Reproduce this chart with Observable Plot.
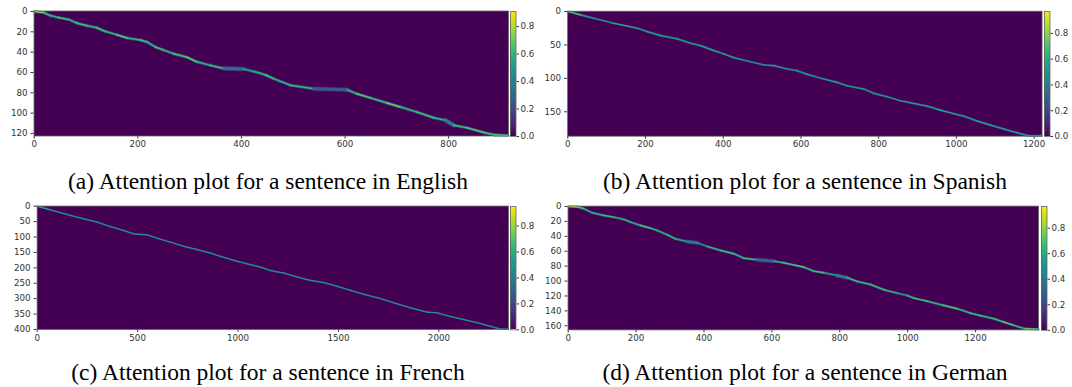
<!DOCTYPE html>
<html>
<head>
<meta charset="utf-8">
<script src="https://cdn.jsdelivr.net/npm/d3@7"></script>
<script src="https://cdn.jsdelivr.net/npm/@observablehq/plot@0.6"></script>
<style>
  html, body { margin: 0; padding: 0; background: #fff; }
  #root { position: relative; width: 1072px; height: 387px; overflow: hidden; background: #fff; }
  #root > div, #root > svg { position: absolute; }
  .cap { font-family: "Liberation Serif", "Times New Roman", serif; font-size: 23.5px; line-height: 1; color: #000; text-align: center; white-space: nowrap; width: 540px; }
</style>
</head>
<body>
<div id="root"></div>
<script>
// ---------------- data ----------------
const captions = [
  "(a) Attention plot for a sentence in English",
  "(b) Attention plot for a sentence in Spanish",
  "(c) Attention plot for a sentence in French",
  "(d) Attention plot for a sentence in German"
];
// matrix sizes (input frames x output steps)
const inputLengths = [916, 1221, 2347, 1386];
const outputLengths = [123, 187, 400, 166];
const colorMax = [0.91, 0.97, 0.95, 0.97];

const xTicksA = [0, 200, 400, 600, 800];
const yTicksA = [0, 20, 40, 60, 80, 100, 120];
const xTicksB = [0, 200, 400, 600, 800, 1000, 1200];
const yTicksB = [0, 50, 100, 150];
const xTicksC = [0, 500, 1000, 1500, 2000];
const yTicksC = [0, 50, 100, 150, 200, 250, 300, 350, 400];
const xTicksD = [0, 200, 400, 600, 800, 1000, 1200];
const yTicksD = [0, 20, 40, 60, 80, 100, 120, 140, 160];
const colorTicks = [0, 0.2, 0.4, 0.6, 0.8];

// attention path: input frame, output step, peak attention weight
const pathAx = [0, 18, 31, 47, 67, 83, 102, 121, 137, 160, 179, 205, 218, 234, 250, 269, 295, 314, 340, 366, 404, 424, 447, 462, 494, 540, 604, 623, 649, 681, 707, 739, 771, 794, 810, 836, 868, 890, 915];
const pathAy = [0, 1, 4, 6, 8, 11.5, 14, 16, 19.5, 23, 26, 28, 30, 35, 38, 41.5, 45, 49.5, 53, 56, 56.5, 59, 62.5, 66, 72.5, 76, 77, 81, 85, 90, 94, 99, 104.5, 107, 112, 114.5, 119, 121.5, 122];
const pathAw = [0.75, 0.62, 0.58, 0.64, 0.58, 0.63, 0.58, 0.64, 0.58, 0.68, 0.58, 0.63, 0.58, 0.64, 0.58, 0.63, 0.68, 0.58, 0.62, 0.32, 0.5, 0.58, 0.63, 0.58, 0.6, 0.25, 0.58, 0.68, 0.62, 0.7, 0.58, 0.64, 0.58, 0.38, 0.62, 0.68, 0.62, 0.7, 0.75];

const pathBx = [0, 33, 67, 118, 179, 204, 239, 282, 316, 342, 376, 402, 427, 462, 505, 530, 565, 590, 616, 659, 693, 719, 762, 788, 822, 856, 899, 925, 959, 994, 1019, 1054, 1088, 1123, 1157, 1187, 1220];
const pathBy = [0, 5, 10, 17.5, 25, 30, 36, 41, 47.5, 51, 58.5, 63.5, 69, 74, 80, 81, 86, 88.5, 94, 101, 106, 111, 116, 122.5, 127.5, 133.5, 138.5, 141.5, 147.5, 153, 156.5, 164, 170, 176, 181.5, 186, 186];
const pathBw = [0.7, 0.56, 0.52, 0.6, 0.52, 0.56, 0.52, 0.56, 0.52, 0.56, 0.52, 0.56, 0.52, 0.52, 0.5, 0.52, 0.5, 0.52, 0.52, 0.56, 0.52, 0.52, 0.5, 0.52, 0.52, 0.56, 0.52, 0.52, 0.56, 0.52, 0.52, 0.56, 0.52, 0.52, 0.52, 0.6, 0.7];

const pathCx = [0, 66, 166, 232, 299, 365, 431, 481, 548, 598, 664, 730, 797, 863, 913, 979, 1046, 1112, 1162, 1228, 1295, 1361, 1427, 1494, 1560, 1627, 1710, 1793, 1859, 1942, 1992, 2058, 2125, 2208, 2258, 2307, 2346];
const pathCy = [0, 12, 30, 41, 52, 66, 79, 90, 93, 104, 117, 130, 141, 152, 163, 176, 187, 198, 209, 217, 230, 241, 248, 260, 273, 286, 300, 317, 330, 344, 346, 358, 368, 381, 390, 399, 399];
const pathCw = [0.6, 0.5, 0.5, 0.5, 0.5, 0.5, 0.5, 0.5, 0.5, 0.5, 0.5, 0.5, 0.5, 0.5, 0.5, 0.5, 0.5, 0.5, 0.5, 0.5, 0.5, 0.5, 0.5, 0.5, 0.5, 0.5, 0.5, 0.5, 0.5, 0.5, 0.5, 0.5, 0.5, 0.5, 0.5, 0.5, 0.55];

const pathDx = [0, 26, 46, 71, 105, 134, 164, 184, 213, 242, 262, 292, 316, 350, 380, 409, 449, 488, 517, 557, 606, 635, 670, 694, 723, 753, 792, 822, 851, 890, 930, 969, 998, 1018, 1057, 1106, 1146, 1185, 1215, 1254, 1283, 1313, 1347, 1385];
const pathDy = [0, 0.4, 3, 8.5, 12, 14.3, 17.4, 21, 25.5, 29, 32, 38, 43.4, 47, 48.7, 53.6, 59, 63.4, 69.3, 71.5, 73.3, 75.5, 79, 81.4, 86.7, 88.9, 92.5, 95.6, 100.5, 104.6, 111.7, 116.2, 119.3, 122.9, 126.9, 132.7, 137.1, 143, 146.5, 150.5, 155, 159.5, 164, 165];
const pathDw = [0.88, 0.72, 0.6, 0.64, 0.68, 0.6, 0.64, 0.6, 0.72, 0.64, 0.6, 0.64, 0.6, 0.4, 0.45, 0.64, 0.68, 0.64, 0.68, 0.3, 0.64, 0.68, 0.72, 0.64, 0.68, 0.55, 0.4, 0.68, 0.64, 0.68, 0.64, 0.5, 0.64, 0.68, 0.64, 0.72, 0.64, 0.68, 0.64, 0.68, 0.72, 0.64, 0.78, 0.8];

// ---------------- layout ----------------
const root = document.getElementById("root");
const BG = "#440154";
const axisStyle = {fontFamily: "'DejaVu Sans', sans-serif", fontSize: "8.7px", color: "#333", background: "transparent", overflow: "visible"};

function segments(xs, ys, ws) {
  const out = [];
  for (let i = 0; i < xs.length - 1; i++) {
    out.push({x1: xs[i], y1: ys[i], x2: xs[i + 1], y2: ys[i + 1], w: ws[i]});
  }
  return out;
}

function heatmap(o) {
  const segs = segments(o.px, o.py, o.pw);
  const svg = Plot.plot({
    width: o.width, height: o.height,
    marginLeft: o.ml, marginRight: o.mr, marginTop: o.mt, marginBottom: o.mb,
    style: axisStyle,
    x: {domain: [-0.5, o.nx - 0.5], ticks: o.xticks, tickSize: 3, tickPadding: 2, label: null, tickFormat: d => String(d)},
    y: {domain: [-0.5, o.nyMax], reverse: true, ticks: o.yticks, tickSize: 3, tickPadding: 3.5, label: null, tickFormat: d => String(d)},
    color: {type: "linear", scheme: "viridis", domain: [0, o.cmax]},
    marks: [
      Plot.frame({fill: BG, stroke: null}),
      Plot.link(segs, {x1: "x1", y1: "y1", x2: "x2", y2: "y2",
        stroke: d => d.w * 0.6,
        strokeWidth: d => o.halo + (d.w < 0.45 ? 1.6 : 0),
        strokeOpacity: 0.7, strokeLinecap: "round"}),
      Plot.link(segs, {x1: "x1", y1: "y1", x2: "x2", y2: "y2",
        stroke: "w",
        strokeWidth: d => o.core + (d.w < 0.45 ? 1.4 : 0),
        strokeLinecap: "round"}),
      Plot.frame({stroke: "#666", strokeWidth: 0.8})
    ]
  });
  svg.style.left = o.left + "px";
  svg.style.top = o.top + "px";
  root.appendChild(svg);
}

function colorbar(o) {
  const n = 150;
  const stops = d3.range(n).map(i => ({v0: i * o.cmax / n, v1: (i + 1) * o.cmax / n}));
  const svg = Plot.plot({
    width: o.w + 26, height: o.bottom - o.top + 14,
    marginLeft: 0, marginRight: 26, marginTop: 2, marginBottom: 12,
    style: axisStyle,
    x: {axis: null, domain: [0, 1]},
    y: {domain: [0, o.cmax], ticks: colorTicks, tickFormat: d3.format(".1f"), axis: "right", tickSize: 2.5, tickPadding: 2, label: null},
    color: {type: "linear", scheme: "viridis", domain: [0, o.cmax]},
    marks: [
      Plot.rect(stops, {x1: 0, x2: 1, y1: "v0", y2: "v1", fill: d => (d.v0 + d.v1) / 2, shapeRendering: "crispEdges"}),
      Plot.frame({stroke: "#666", strokeWidth: 0.8})
    ]
  });
  svg.style.left = o.left + "px";
  svg.style.top = (o.top - 2) + "px";
  root.appendChild(svg);
}

function caption(text, cx, baseline) {
  const d = document.createElement("div");
  d.className = "cap";
  d.textContent = text;
  d.style.left = (cx - 270) + "px";
  d.style.top = (baseline - 19.7) + "px";
  root.appendChild(d);
}

// (a)
heatmap({left: 0, top: 0, width: 509, height: 152, ml: 33.5, mr: 1, mt: 10.5, mb: 16.5,
  nx: inputLengths[0], nyMax: outputLengths[0] - 0.5, xticks: xTicksA, yticks: yTicksA, cmax: colorMax[0],
  px: pathAx, py: pathAy, pw: pathAw, core: 1.5, halo: 3.0});
colorbar({left: 510, top: 10.5, bottom: 135.5, w: 5.5, cmax: colorMax[0]});
// (b)
heatmap({left: 530, top: 0, width: 512.6, height: 152, ml: 37.1, mr: 1, mt: 10.7, mb: 16.3,
  nx: inputLengths[1], nyMax: outputLengths[1] - 0.5, xticks: xTicksB, yticks: yTicksB, cmax: colorMax[1],
  px: pathBx, py: pathBy, pw: pathBw, core: 1.2, halo: 2.2});
colorbar({left: 1043.5, top: 10.7, bottom: 135.7, w: 5.5, cmax: colorMax[1]});
// (c)
heatmap({left: 0, top: 190, width: 509, height: 158, ml: 36.6, mr: 1, mt: 15.55, mb: 19.05,
  nx: inputLengths[2], nyMax: outputLengths[2], xticks: xTicksC, yticks: yTicksC, cmax: colorMax[2],
  px: pathCx, py: pathCy, pw: pathCw, core: 1.0, halo: 1.8});
colorbar({left: 510, top: 205.55, bottom: 328.95, w: 5.5, cmax: colorMax[2]});
// (d)
heatmap({left: 530, top: 190, width: 509.1, height: 158, ml: 37.5, mr: 1, mt: 15.6, mb: 18.6,
  nx: inputLengths[3], nyMax: outputLengths[3] - 0.5, xticks: xTicksD, yticks: yTicksD, cmax: colorMax[3],
  px: pathDx, py: pathDy, pw: pathDw, core: 1.3, halo: 2.5});
colorbar({left: 1041, top: 205.6, bottom: 329.4, w: 5.5, cmax: colorMax[3]});

caption(captions[0], 268, 190);
caption(captions[1], 805, 190);
caption(captions[2], 268, 381);
caption(captions[3], 805, 381);
</script>
</body>
</html>
